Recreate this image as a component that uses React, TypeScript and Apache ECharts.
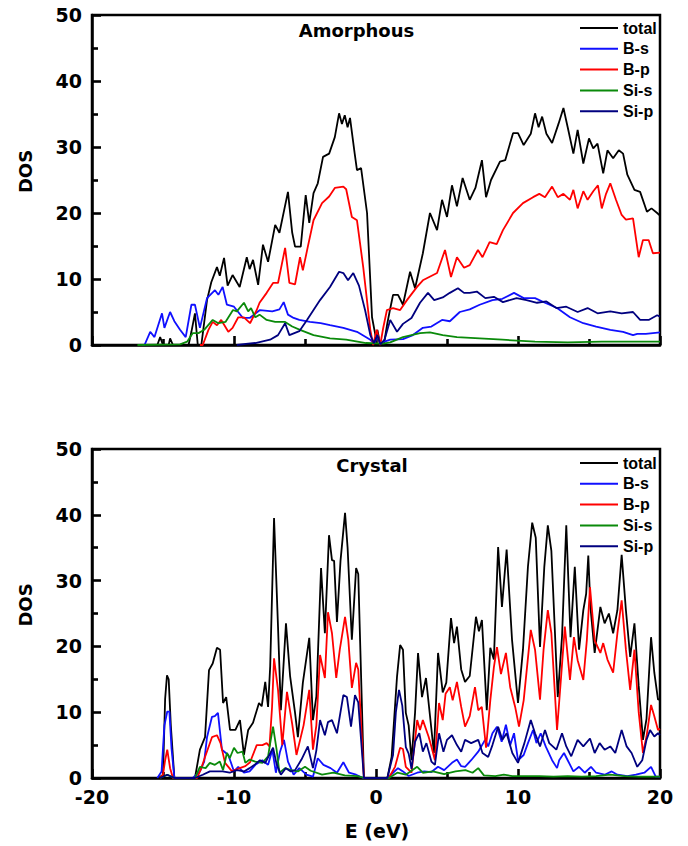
import React, { useEffect, useRef } from "react";
import * as echarts from "echarts";

// ---------- data: [E (eV), DOS] ----------
const xTicks = [-20, -10, 0, 10, 20];
const yTicks = [0, 10, 20, 30, 40, 50];
const seriesNames = ["total", "B-s", "B-p", "Si-s", "Si-p"];
const panelTitles = ["Amorphous", "Crystal"];

const aTotal = [[-16.5,0],[-15.4,0],[-15.2,1.2],[-15.0,0],[-14.6,0],[-14.5,1.0],[-14.3,0],[-13.2,0],[-13.0,2],[-12.75,4.8],[-12.55,0],[-12.3,0],[-11.9,6.8],[-11.6,9.5],[-11.2,11.8],[-11.0,10.5],[-10.7,13.2],[-10.45,9.0],[-10.1,10.6],[-9.6,8.8],[-9.1,13.3],[-8.9,11.5],[-8.66,12.9],[-8.3,9.1],[-7.96,15.2],[-7.6,12.6],[-7.1,18.2],[-6.8,17.0],[-6.2,23.2],[-5.9,17],[-5.7,14.9],[-5.3,14.9],[-4.95,22.7],[-4.7,18.5],[-4.4,23],[-4.1,24.5],[-3.73,28.5],[-3.3,29],[-2.9,31.5],[-2.6,35.1],[-2.4,33.5],[-2.2,34.8],[-2.0,33.0],[-1.83,34.4],[-1.5,29],[-1.34,26.5],[-1.05,26.8],[-0.63,20],[-0.28,4.2],[0.0,1.0],[0.1,2.3],[0.3,0],[0.55,0],[0.8,3.3],[1.0,5.5],[1.2,7.6],[1.55,7.6],[1.9,6.1],[2.4,11.1],[2.75,8.6],[3.3,13.9],[3.8,20],[4.3,17.4],[4.65,22],[5.0,19.4],[5.35,24.2],[5.7,21],[6.1,25.3],[6.6,22],[7.0,23.8],[7.46,28],[7.75,22.4],[8.1,25],[8.73,27.8],[9.1,28],[9.65,32.1],[10.0,32.1],[10.4,30.3],[10.9,32],[11.2,35.1],[11.45,33],[11.7,34.6],[12.0,32],[12.4,30.6],[12.85,33.5],[13.2,35.9],[13.5,33],[13.9,29],[14.2,32.6],[14.6,27.5],[15.0,31.3],[15.3,29.8],[15.6,30.5],[16.0,26],[16.3,29.5],[16.7,28.3],[17.1,29.5],[17.4,29],[17.7,25.8],[18.2,23.5],[18.6,23.2],[19.08,20.2],[19.4,20.7],[19.8,20],[20,19.6]];
const aBs = [[-16.5,0],[-16.3,0],[-15.9,2],[-15.6,1.2],[-15.07,4.8],[-14.9,2.6],[-14.5,5],[-14.2,3.6],[-13.8,2.3],[-13.4,1.2],[-13.0,6.1],[-12.75,6.1],[-12.4,2.6],[-11.9,7.1],[-11.34,8.3],[-11.1,7.6],[-10.8,8.8],[-10.5,6.1],[-10.0,5.8],[-9.37,4.1],[-8.9,4.1],[-8.17,5.3],[-7.3,5.1],[-6.8,5.4],[-6.5,6.5],[-6.2,4.6],[-5.8,4.1],[-5.4,3.8],[-4.65,3.5],[-3.9,3.3],[-3.24,3],[-2.3,2.6],[-1.34,2],[-0.4,0.8],[-0.1,0.2],[0.1,1.5],[0.3,0.2],[0.6,0.5],[1.0,0.8],[1.9,0.9],[2.6,1.5],[3.3,2.6],[3.9,2.8],[4.65,3.8],[5.2,3.6],[5.9,5],[6.6,5.4],[7.3,6.1],[8.2,6.8],[8.9,7],[9.72,7.9],[10.4,7.1],[11.2,7.1],[11.9,6.4],[12.75,5.6],[13.66,4.2],[14.6,3.3],[15.5,2.8],[16.5,2.3],[17.4,2.0],[18.1,1.5],[18.4,1.7],[19.0,1.7],[20,1.9]];
const aBp = [[-12.4,0],[-12.2,0],[-11.8,2.3],[-11.5,3.5],[-11.2,3.0],[-10.9,3.8],[-10.4,2],[-10.1,2.6],[-9.7,4.2],[-9.3,4.2],[-8.87,3.3],[-8.4,5.3],[-8.2,6.4],[-7.7,7.9],[-7.25,9.4],[-6.9,9.4],[-6.4,14.7],[-6.1,9.4],[-5.7,9.2],[-5.35,13.3],[-5.15,11.3],[-4.8,14.9],[-4.4,18.9],[-3.8,21.5],[-3.3,22.5],[-2.9,23.8],[-2.3,24],[-2.1,23.6],[-1.7,19.4],[-1.34,18.9],[-0.9,11.8],[-0.4,2.3],[-0.2,0],[0.05,2.3],[0.3,0],[0.5,2.5],[0.77,5.3],[1.2,5.6],[1.7,5.3],[2.18,6.8],[2.89,8.8],[3.3,9.8],[4.3,10.9],[4.86,14.4],[5.28,10.3],[5.7,13.3],[6.2,11.7],[6.6,12.1],[7.18,14.4],[7.5,13.3],[8.0,15.6],[8.5,15.3],[8.94,17.4],[9.65,20],[10.35,21.5],[11.06,22.4],[11.5,22.9],[11.9,22.4],[12.4,24],[12.8,22.4],[13.2,22.9],[13.66,22],[13.9,23.5],[14.2,20.7],[14.6,23.3],[14.9,22],[15.3,23.3],[15.63,24.2],[15.9,20.7],[16.2,22.9],[16.5,24.5],[16.9,22],[17.3,19.7],[17.6,19],[18.1,19.2],[18.5,13.3],[18.8,15.9],[19.2,15.9],[19.5,13.9],[20,14]];
const aSs = [[-16.8,0],[-13.8,0.1],[-13.3,0.5],[-12.9,1.8],[-12.5,1.8],[-12.1,2.3],[-11.5,3.8],[-11.1,3.3],[-10.6,3.5],[-10.07,5.3],[-9.8,5.1],[-9.3,6.4],[-9.0,5.1],[-8.8,5.6],[-8.5,4.2],[-8.2,4.6],[-7.7,3.8],[-7.1,3.5],[-6.4,3.5],[-5.9,2.8],[-5.35,2.3],[-4.4,1.5],[-3.24,1],[-2.1,0.8],[-0.7,0.3],[0.5,0.2],[1.0,0.4],[1.9,1.2],[3.1,1.8],[3.8,1.9],[4.7,1.5],[5.7,1.2],[7.3,1.0],[8.9,0.8],[11.2,0.5],[13.5,0.4],[15.9,0.5],[18,0.5],[20,0.5]];
const aSp = [[-9.8,0],[-9.0,0.2],[-8.5,0.3],[-7.46,0.8],[-6.9,1.5],[-6.4,3.3],[-6.1,1.5],[-5.4,2.1],[-4.86,3.8],[-4.4,5.3],[-3.94,6.8],[-3.24,8.8],[-2.6,11.1],[-2.3,10.9],[-1.97,9.8],[-1.6,10.9],[-1.2,9],[-0.77,5.3],[-0.4,1.5],[-0.15,0.3],[0.1,1.5],[0.3,0.1],[0.6,0.8],[1.0,3.8],[1.48,2],[1.9,3.2],[2.5,4.1],[3.1,6.4],[3.66,7.9],[4.1,6.8],[4.7,7.2],[5.2,7.9],[5.77,8.6],[6.2,7.9],[6.6,7.9],[7.1,8.1],[7.7,7.1],[8.3,7.3],[8.94,6.5],[9.9,7.1],[10.6,6.8],[11.34,6.4],[12.0,6.6],[12.7,5.6],[13.4,5.8],[14.2,5],[14.9,5.6],[15.6,4.8],[16.5,5.1],[17.3,4.8],[18.1,5],[18.6,3.8],[19.2,3.8],[19.8,4.5],[20,4.3]];

const cTotal = [[-15.3,0],[-15.0,0.5],[-14.85,12],[-14.72,15.6],[-14.6,15],[-14.45,8],[-14.2,0],[-12.75,0],[-12.4,4.3],[-12.04,6.2],[-11.76,16.4],[-11.5,17.4],[-11.2,19.8],[-10.98,19.5],[-10.77,11.4],[-10.55,12.3],[-10.28,7.3],[-9.9,7.3],[-9.58,8.8],[-9.3,3.5],[-9.0,7.3],[-8.66,8.4],[-8.24,11.4],[-8.05,10.9],[-7.8,14.6],[-7.6,10.8],[-7.45,17],[-7.18,39.5],[-6.9,23],[-6.7,10.3],[-6.34,23.5],[-6.05,15.5],[-5.7,9.9],[-5.5,6.2],[-5.15,14.5],[-4.7,21.3],[-4.44,8.8],[-4.2,12.4],[-3.87,31.9],[-3.6,22],[-3.31,36.9],[-3.1,33.1],[-2.95,33],[-2.75,23.7],[-2.5,33],[-2.18,40.3],[-2.0,35],[-1.7,21],[-1.4,31.9],[-1.25,31],[-0.85,0],[0.8,0],[1.1,3.2],[1.48,15.4],[1.7,20.2],[1.9,19.5],[2.1,9.9],[2.3,8],[2.5,2.7],[2.75,9.9],[2.96,19],[3.24,12.3],[3.52,15.2],[3.8,9.5],[4.08,3.8],[4.37,19],[4.7,13],[4.95,14.5],[5.28,24.3],[5.5,20.5],[5.7,23],[6.0,16.5],[6.27,14.6],[6.6,15.5],[7.04,24.5],[7.25,22.3],[7.46,24],[7.8,10.3],[8.05,19.8],[8.3,18],[8.6,35.1],[8.87,26],[9.2,34.7],[9.58,21],[10.0,11.4],[10.35,19.5],[10.7,32.1],[11.0,38.8],[11.25,36.5],[11.55,19.9],[11.85,32],[12.1,38.4],[12.35,34.5],[12.8,12.3],[13.1,21.5],[13.4,38.4],[13.7,21.4],[14.0,32.1],[14.3,19.5],[14.6,25.5],[14.8,28],[14.95,33.8],[15.1,26],[15.4,19],[15.8,26],[16.1,23.5],[16.4,25],[16.7,22],[17.0,25.5],[17.3,33.9],[17.6,25.5],[17.9,18.4],[18.2,23.5],[18.5,14],[18.8,5.8],[19.05,9],[19.37,21.4],[19.6,16],[19.86,11.9],[20,12]];
const cBs = [[-15.4,0],[-15.1,1],[-14.9,8],[-14.7,10.1],[-14.55,10.1],[-14.4,4.5],[-14.2,0],[-12.9,0],[-12.4,1],[-12.1,2.5],[-11.9,6.2],[-11.55,9.3],[-11.35,9.4],[-11.13,9.9],[-10.85,4.3],[-10.4,3.5],[-10.0,1],[-9.7,1.7],[-9.3,0.8],[-8.9,1],[-8.5,2],[-8.0,2.7],[-7.6,2],[-7.3,4.3],[-7.05,0.8],[-6.76,4],[-6.48,5.8],[-6.2,2.5],[-5.8,0.5],[-5.4,1.5],[-4.9,0.5],[-4.44,0.2],[-4.1,3],[-3.7,2],[-3.2,1.5],[-2.75,0.8],[-2.3,2.4],[-1.9,0.8],[-1.4,0.5],[-0.9,0],[0.8,0],[1.2,0.8],[1.55,1.5],[1.9,1.0],[2.3,0.3],[2.9,0.8],[3.4,1.0],[3.9,0.9],[4.37,1.7],[4.8,1.2],[5.35,2.3],[5.7,2.8],[6.0,1.8],[6.27,1.7],[6.7,2.7],[7.2,4],[7.68,5.8],[7.9,4.8],[8.2,6.8],[8.52,7.8],[8.85,5.5],[9.15,8.1],[9.45,5],[9.72,6.8],[10.0,2.7],[10.4,3.5],[10.7,5.3],[11.06,7.3],[11.3,5.3],[11.6,6.8],[11.95,4.8],[12.4,2.7],[12.75,1.5],[12.9,2.7],[13.24,3.8],[13.5,2.7],[13.9,1],[14.3,1.7],[14.7,0.8],[15.14,1.7],[15.5,0.8],[16.1,0.5],[16.6,1],[17.0,0.5],[17.7,0.3],[18.3,0.5],[18.9,0.8],[19.37,1.7],[19.7,0.2],[20,0.2]];
const cBp = [[-15.2,0],[-15.0,0.5],[-14.85,2.7],[-14.7,4.3],[-14.5,1.5],[-14.3,0],[-12.6,0],[-12.3,1.5],[-12.04,3.2],[-11.55,6.2],[-11.2,6.5],[-10.95,5.3],[-10.63,2.3],[-10.14,1],[-9.6,1.5],[-9.2,1.8],[-8.87,2.4],[-8.4,5],[-8.0,5],[-7.7,5.3],[-7.5,4.8],[-7.32,10.8],[-7.18,18.2],[-6.9,13.4],[-6.6,5],[-6.27,13.1],[-5.9,8.2],[-5.6,3.5],[-5.1,8],[-4.7,13.4],[-4.44,4.3],[-4.2,8],[-3.94,18.7],[-3.6,15.2],[-3.38,25.2],[-3.1,22],[-2.8,15.2],[-2.55,19.5],[-2.18,24.5],[-1.95,21],[-1.7,13.7],[-1.4,17.5],[-1.25,16.5],[-0.85,0],[0.9,0],[1.34,1.7],[1.7,4.6],[1.9,4.4],[2.1,1.7],[2.5,0.8],[2.9,8.8],[3.1,7.3],[3.3,8.8],[3.7,6.3],[3.9,4.8],[4.15,2.7],[4.44,11.4],[4.7,8.8],[4.9,12.8],[5.2,13.8],[5.4,11.8],[5.7,14.6],[6.0,10.8],[6.27,7.8],[6.6,9.4],[6.97,13.8],[7.2,10.3],[7.45,10.8],[7.75,4.6],[8.05,11.8],[8.3,16.8],[8.52,19.9],[8.8,15.8],[9.15,19],[9.45,13.8],[9.8,10.8],[10.07,7.8],[10.4,11.8],[10.9,22.5],[11.2,19.5],[11.55,11.9],[11.8,19.5],[12.1,25.5],[12.35,22],[12.75,7.3],[13.05,15.8],[13.3,23],[13.66,14.9],[13.94,21.4],[14.2,17.9],[14.6,14.9],[14.85,21],[15.07,29],[15.4,20.9],[15.8,19],[16.0,20.5],[16.3,18],[16.7,16],[17.0,22],[17.3,27],[17.6,19.5],[17.9,13.4],[18.2,19.5],[18.5,10],[18.8,3.8],[19.05,6.3],[19.37,11.1],[19.6,9.4],[19.86,7.3],[20,7.5]];
const cSs = [[-15.2,0],[-14.7,0.5],[-14.2,0],[-12.75,0],[-12.4,1.7],[-12.0,1.5],[-11.7,2.3],[-11.35,2.0],[-11.0,2.5],[-10.77,1.2],[-10.5,3.8],[-10.3,3],[-10.0,4.6],[-9.75,3.8],[-9.4,4.0],[-9.2,2.3],[-8.9,2.8],[-8.5,2.5],[-8.0,2.3],[-7.6,3.3],[-7.45,5.3],[-7.25,7.8],[-7.0,4.3],[-6.8,0.8],[-6.4,1.5],[-6.0,1.2],[-5.5,1.0],[-5.0,1.7],[-4.6,1.1],[-3.8,0.5],[-3.0,0.8],[-2.2,0.4],[-1.3,0.3],[-0.8,0],[0.9,0],[1.5,0.8],[2.1,0.5],[2.9,1.7],[3.3,0.8],[4.0,1.0],[4.8,0.6],[5.6,1.0],[6.3,1.2],[6.8,0.8],[7.2,1.5],[7.6,0.4],[8.4,0.3],[9.0,0.5],[9.6,0.3],[10.5,0.3],[11.5,0.3],[12.5,0.2],[13.5,0.3],[14.5,0.2],[15.5,0.3],[16.5,0.5],[17.5,0.3],[18.5,0.2],[20,0.2]];
const cSp = [[-15.2,0],[-14.7,0.5],[-14.2,0],[-12.75,0],[-12.2,0.5],[-11.7,1],[-10.8,1],[-10.3,0.8],[-9.8,1.2],[-9.3,1],[-8.9,1.5],[-8.5,2.1],[-8.17,2.7],[-7.8,2.3],[-7.25,4.6],[-7.0,2.1],[-6.7,0.5],[-6.35,1.5],[-6.0,1.0],[-5.7,1.2],[-5.25,2.8],[-4.8,4.8],[-4.44,1.5],[-4.2,4.2],[-3.94,8.8],[-3.6,6.5],[-3.38,8.5],[-3.1,8.8],[-2.75,6.8],[-2.3,12.6],[-2.05,12.3],[-1.76,7.8],[-1.48,12.6],[-1.25,11.5],[-0.85,0],[0.8,0],[1.2,3.5],[1.4,10],[1.62,13.4],[1.85,11],[2.1,4.7],[2.3,3.7],[2.5,1.4],[2.75,5.5],[2.9,6.2],[3.05,6.8],[3.3,4.0],[3.55,5.3],[3.9,2.5],[4.15,2],[4.44,6.8],[4.75,4.0],[5.0,5.8],[5.35,6.5],[5.7,5],[6.0,4],[6.27,5.8],[6.7,5.3],[7.2,5.8],[7.5,3.8],[7.9,3.2],[8.2,5],[8.6,7.8],[8.9,5.8],[9.2,6.8],[9.6,3.8],[10.0,2.3],[10.45,5.3],[10.9,8.8],[11.2,6.8],[11.55,4.8],[11.9,7.3],[12.2,5.3],[12.7,4.3],[13.1,6.8],[13.4,4.8],[13.75,3.3],[14.2,5.8],[14.6,4.8],[15.07,6.0],[15.4,3.8],[15.75,5.3],[16.1,4.3],[16.5,4.8],[16.85,3.8],[17.3,7.3],[17.65,4.8],[18.0,3.8],[18.4,1.7],[18.75,2.7],[19.05,5.8],[19.3,7.3],[19.6,6.3],[19.86,6.8],[20,6.5]];

const amorphous = [aTotal, aBs, aBp, aSs, aSp];
const crystal = [cTotal, cBs, cBp, cSs, cSp];
const colors = ["#000000", "#1010ff", "#ff0000", "#0a8a0a", "#00007f"];

const FONT = "DejaVu Sans";
const LFONT = "Liberation Sans";

export default function App() {
  const ref = useRef<HTMLDivElement>(null);
  useEffect(() => {
    if (!ref.current) return;
    const chart = echarts.init(ref.current, null, { renderer: "svg" });
    const grids = [
      { left: 92, top: 15, width: 568, height: 330 },
      { left: 92, top: 449, width: 568, height: 329 },
    ];
    const labelStyle = { color: "#000", fontFamily: FONT, fontWeight: "bold", fontSize: 19 };
    const mkX = (i: number) => ({
      type: "value",
      gridIndex: i,
      position: "bottom",
      min: xTicks[0],
      max: xTicks[xTicks.length - 1],
      interval: 10,
      axisLine: { show: true, onZero: false, lineStyle: { color: "#000", width: 2.5 } },
      axisTick: { show: true, inside: true, length: 9, lineStyle: { color: "#000", width: 2.6 } },
      minorTick: { show: true, splitNumber: 2, length: 6, lineStyle: { color: "#000", width: 2.6 } },
      splitLine: { show: false },
      minorSplitLine: { show: false },
      axisLabel: { show: i === 1, margin: 9, ...labelStyle },
    });
    const mkY = (i: number) => ({
      type: "value",
      gridIndex: i,
      position: "left",
      min: yTicks[0],
      max: yTicks[yTicks.length - 1],
      interval: 10,
      axisLine: { show: true, onZero: false, lineStyle: { color: "#000", width: 2.5 } },
      axisTick: { show: true, inside: true, length: 9, lineStyle: { color: "#000", width: 2.6 } },
      minorTick: { show: true, splitNumber: 2, length: 6, lineStyle: { color: "#000", width: 2.6 } },
      splitLine: { show: false },
      minorSplitLine: { show: false },
      axisLabel: { margin: 10, ...labelStyle },
    });
    const series: any[] = [];
    [amorphous, crystal].forEach((panel, pi) => {
      panel.forEach((d, si) => {
        series.push({
          type: "line",
          name: seriesNames[si],
          xAxisIndex: pi,
          yAxisIndex: pi,
          data: d,
          showSymbol: false,
          symbol: "none",
          smooth: false,
          lineStyle: { color: colors[si], width: 1.8 },
          itemStyle: { color: colors[si] },
          z: 2 + si,
        });
      });
    });
    const mkLegend = (top: number) => ({
      orient: "vertical",
      left: 580,
      top,
      padding: 0,
      itemWidth: 38,
      itemHeight: 2,
      itemGap: 4.8,
      icon: "rect",
      selectedMode: false,
      data: seriesNames,
      textStyle: {
        color: "#000",
        fontFamily: LFONT,
        fontWeight: "bold",
        fontSize: 16,
        lineHeight: 16,
      },
    });
    const txt = (text: string, x: number, y: number, rot = 0, size = 18) => ({
      type: "text",
      x,
      y,
      rotation: rot,
      style: {
        text,
        fill: "#000",
        font: `bold ${size}px "${FONT}"`,
        textAlign: "center",
        textVerticalAlign: "middle",
      },
    });
    chart.setOption({
      animation: false,
      backgroundColor: "#fff",
      grid: grids.map((g) => ({ ...g, show: true, borderColor: "#000", borderWidth: 2.5 })),
      xAxis: [mkX(0), mkX(1)],
      yAxis: [mkY(0), mkY(1)],
      legend: [mkLegend(20), mkLegend(455)],
      series,
      graphic: [
        txt(panelTitles[0], 356.5, 30.5),
        txt(panelTitles[1], 372, 465),
        txt("DOS", 25, 171.5, Math.PI / 2),
        txt("DOS", 25, 605, Math.PI / 2),
        txt("E (eV)", 377, 831, 0, 19),
      ],
    });
    return () => chart.dispose();
  }, []);
  return (
    <div
      ref={ref}
      style={{ position: "fixed", left: 0, top: 0, width: 688, height: 846, background: "#fff" }}
    />
  );
}
